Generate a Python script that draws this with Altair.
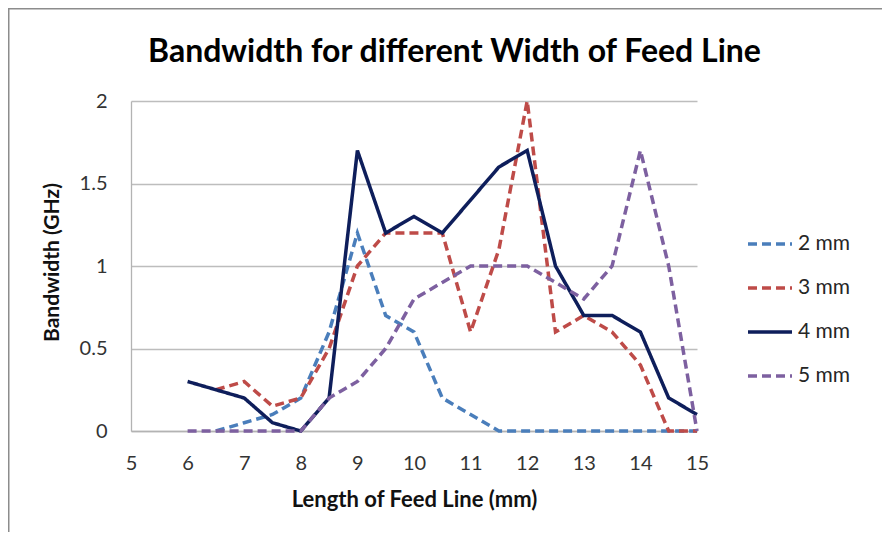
import altair as alt
import pandas as pd

lengths = [6, 6.5, 7, 7.5, 8, 8.5, 9, 9.5, 10, 10.5, 11, 11.5, 12, 12.5, 13, 13.5, 14, 14.5, 15]
bw_2mm = [None, 0, 0.05, 0.1, 0.2, 0.6, 1.2, 0.7, 0.6, 0.2, 0.1, 0, 0, 0, 0, 0, 0, 0, 0]
bw_3mm = [None, 0.25, 0.3, 0.15, 0.2, 0.5, 1.0, 1.2, 1.2, 1.2, 0.6, 1.1, 2.0, 0.6, 0.7, 0.6, 0.4, 0, 0]
bw_4mm = [0.3, 0.25, 0.2, 0.05, 0, 0.2, 1.7, 1.2, 1.3, 1.2, 1.4, 1.6, 1.7, 1.0, 0.7, 0.7, 0.6, 0.2, 0.1]
bw_5mm = [0, 0, 0, 0, 0, 0.2, 0.3, 0.5, 0.8, 0.9, 1.0, 1.0, 1.0, 0.9, 0.8, 1.0, 1.7, 1.0, 0]

series_names = ["2 mm", "3 mm", "4 mm", "5 mm"]
series_values = [bw_2mm, bw_3mm, bw_4mm, bw_5mm]
series_colors = ["#4A7EBB", "#BE4B48", "#0E1E5B", "#7D60A0"]
series_dash = [[9, 5], [9, 5], [1, 0], [9, 5]]
chart_title = "Bandwidth for different Width of Feed Line"

rows = []
for name, vals in zip(series_names, series_values):
    for x, v in zip(lengths, vals):
        if v is not None:
            rows.append({"length": x, "bandwidth": v, "series": name})
df = pd.DataFrame(rows)

FONT = "Lato"
W, H = 566, 330

lines = alt.Chart(df).mark_line(strokeWidth=3.5).encode(
    x=alt.X("length:Q",
            scale=alt.Scale(domain=[5, 15], nice=False, zero=False),
            axis=alt.Axis(values=list(range(5, 16)), title="Length of Feed Line (mm)",
                          grid=False, ticks=False, labelPadding=22, labelFlush=False,
                          labelOverlap=False, labelFontSize=20, labelFont=FONT,
                          labelColor="#333333", domainColor="#B3B3B3", domainWidth=1.3,
                          titleFont=FONT, titleFontSize=22, titleFontWeight="bold",
                          titleColor="#111111", titleY=68, titleBaseline="middle")),
    y=alt.Y("bandwidth:Q",
            scale=alt.Scale(domain=[0, 2], nice=False),
            axis=alt.Axis(values=[0, 0.5, 1, 1.5, 2], format="~g", title="Bandwidth (GHz)",
                          grid=True, gridColor="#BDBDBD", gridWidth=1.3, ticks=False,
                          labelPadding=24, labelFontSize=20, labelFont=FONT,
                          labelColor="#333333", domainColor="#B3B3B3", domainWidth=1.3,
                          titleFont=FONT, titleFontSize=21, titleFontWeight="bold",
                          titleColor="#111111", titleX=-79, titleY=H / 2 - 4,
                          titleBaseline="middle")),
    color=alt.Color("series:N", scale=alt.Scale(domain=series_names, range=series_colors),
                    legend=alt.Legend(title=None)),
    strokeDash=alt.StrokeDash("series:N", scale=alt.Scale(domain=series_names, range=series_dash),
                              legend=alt.Legend(title=None)),
)

one = pd.DataFrame({"k": [0]})
border_left = alt.Chart(one).mark_rule(color="#8C8C8C", strokeWidth=1.5).encode(
    x=alt.value(-122.25), y=alt.value(-93), y2=alt.value(H + 110))
border_top = alt.Chart(one).mark_rule(color="#8C8C8C", strokeWidth=1.5).encode(
    x=alt.value(-123), x2=alt.value(W + 200), y=alt.value(-92.25))
title_text = alt.Chart(one).mark_text(
    text=chart_title, font=FONT, fontSize=32, fontWeight="bold", color="black",
    align="center", baseline="alphabetic").encode(
    x=alt.value(323.5), y=alt.value(-39))

chart = alt.layer(lines, border_left, border_top, title_text).properties(
    width=W, height=H,
    autosize=alt.AutoSizeParams(type="none"),
    padding={"left": 123, "top": 93, "right": 185, "bottom": 101},
).configure_view(strokeWidth=0).configure_legend(
    orient="none", legendX=615, legendY=119, symbolType="stroke", symbolSize=1936,
    symbolStrokeWidth=3.5, labelFont=FONT, labelFontSize=21, labelColor="#262626",
    rowPadding=10, labelOffset=4, padding=0,
)

chart.save("out.html", embed_options={"renderer": "svg", "actions": False})
